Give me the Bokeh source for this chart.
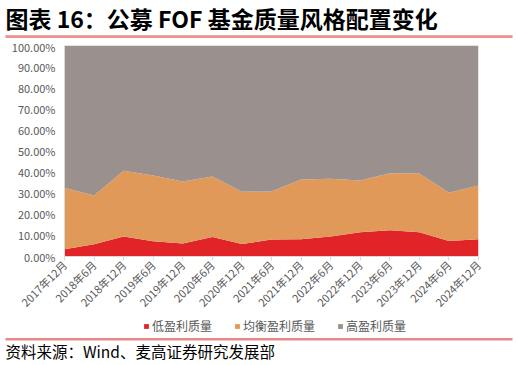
import math
from bokeh.plotting import figure
from bokeh.layouts import column
from bokeh.models import (ColumnDataSource, Range1d, FixedTicker, NumeralTickFormatter,
                          Legend, LegendItem)
from bokeh.core.properties import value
from bokeh.embed import file_html
from bokeh.resources import INLINE

# ---- data (percent shares) ----
categories = ["2017年12月", "2018年6月", "2018年12月", "2019年6月", "2019年12月",
              "2020年6月", "2020年12月", "2021年6月", "2021年12月", "2022年6月",
              "2022年12月", "2023年6月", "2023年12月", "2024年6月", "2024年12月"]
low_quality = [3.4, 5.8, 9.5, 7.2, 6.2, 9.3, 5.9, 8.0, 8.2, 9.5, 11.5, 12.5, 11.5, 7.4, 8.2]
balanced_quality = [29.2, 23.1, 31.1, 31.2, 29.4, 28.6, 24.8, 22.8, 28.3, 27.3, 24.5, 27.0, 27.8, 22.8, 25.4]
high_quality = [67.4, 71.1, 59.4, 61.6, 64.4, 62.1, 69.3, 69.2, 63.5, 63.2, 64.0, 60.5, 60.7, 69.8, 66.4]
series_names = ["低盈利质量", "均衡盈利质量", "高盈利质量"]
series_colors = ["#E02428", "#E09958", "#9A908E"]
y_ticks = [0.0, 0.1, 0.2, 0.3, 0.4, 0.5, 0.6, 0.7, 0.8, 0.9, 1.0]

title_text = "图表 16：公募 FOF 基金质量风格配置变化"
source_text = "资料来源：Wind、麦高证券研究发展部"

FONT = "Noto Sans CJK SC"
W = 518
TOP_H, MAIN_H, BOT_H = 38, 280, 47


def blank_fig(h):
    f = figure(width=W, height=h, output_backend="svg", toolbar_location=None,
               x_range=Range1d(0, W), y_range=Range1d(h, 0),
               x_axis_type=None, y_axis_type=None, min_border=0, frame_align=False)
    f.outline_line_color = None
    f.grid.visible = False
    return f


# ---- header: title + double rule ----
top = blank_fig(TOP_H)
top.text(x=[5], y=[17], text=[title_text], text_font=value(FONT), text_font_size="23px",
         text_font_style="bold", text_baseline="middle", text_align="left", text_color="#000000")
top.quad(left=[5], right=[512], top=[35], bottom=[38], fill_color="#F6B0B0", line_color=None)
top.quad(left=[5, 5], right=[512, 512], top=[35, 37], bottom=[36, 38],
         fill_color="#EC7070", line_color=None)

# ---- main chart ----
src = ColumnDataSource(dict(
    x=list(range(len(categories))),
    low=[v / 100 for v in low_quality],
    mid=[v / 100 for v in balanced_quality],
    high=[v / 100 for v in high_quality],
))

p = figure(width=W, height=MAIN_H, output_backend="svg", toolbar_location=None,
           x_range=Range1d(0, len(categories) - 1), y_range=Range1d(0, 1),
           min_border_left=64, min_border_right=40, min_border_top=7, min_border_bottom=62,
           frame_align=False)
p.outline_line_color = None
p.grid.visible = False

renderers = p.varea_stack(stackers=["low", "mid", "high"], x="x", color=series_colors, source=src)

p.xaxis.ticker = FixedTicker(ticks=list(range(len(categories))))
p.xaxis.major_label_overrides = {i: c for i, c in enumerate(categories)}
p.xaxis.major_label_orientation = math.pi / 4
p.xaxis.axis_line_color = "#D9D9D9"
p.xaxis.major_tick_line_color = "#D9D9D9"
p.xaxis.major_tick_out = 4
p.xaxis.major_tick_in = 0
p.xaxis.minor_tick_line_color = None
p.xaxis.major_label_text_font = FONT
p.xaxis.major_label_text_font_size = "11px"
p.xaxis.major_label_text_color = "#595959"
p.xaxis.major_label_standoff = 2

p.yaxis.ticker = FixedTicker(ticks=y_ticks)
p.yaxis.formatter = NumeralTickFormatter(format="0.00%")
p.yaxis.axis_line_color = "#D9D9D9"
p.yaxis.major_tick_line_color = None
p.yaxis.minor_tick_line_color = None
p.yaxis.major_tick_out = 0
p.yaxis.major_tick_in = 0
p.yaxis.major_label_text_font = FONT
p.yaxis.major_label_text_font_size = "11px"
p.yaxis.major_label_text_color = "#595959"
p.yaxis.major_label_standoff = 9

# ---- footer: legend, rule, source ----
bot = blank_fig(BOT_H)
items = []
for name, col in zip(series_names, series_colors):
    # legend swatch carrier, placed outside the visible range
    r = bot.scatter(x=[-1000], y=[-1000], marker="square", fill_color=col, line_color=None)
    items.append(LegendItem(label=name, renderers=[r]))
legend = Legend(items=items, orientation="horizontal", location=(140, BOT_H - 16),
                glyph_width=12, glyph_height=16, label_height=16, label_standoff=0,
                spacing=19, padding=0, margin=0, border_line_color=None,
                background_fill_alpha=0, label_text_font=FONT,
                label_text_font_size="12px", label_text_color="#595959")
bot.add_layout(legend)
bot.quad(left=[5], right=[512], top=[19.5], bottom=[22], fill_color="#EE8888", line_color=None)
bot.text(x=[5], y=[32], text=[source_text], text_font=value(FONT), text_font_size="15.5px",
         text_baseline="middle", text_align="left", text_color="#000000")

layout = column(top, p, bot, spacing=0)
open("out.html", "w").write(file_html(layout, INLINE))
